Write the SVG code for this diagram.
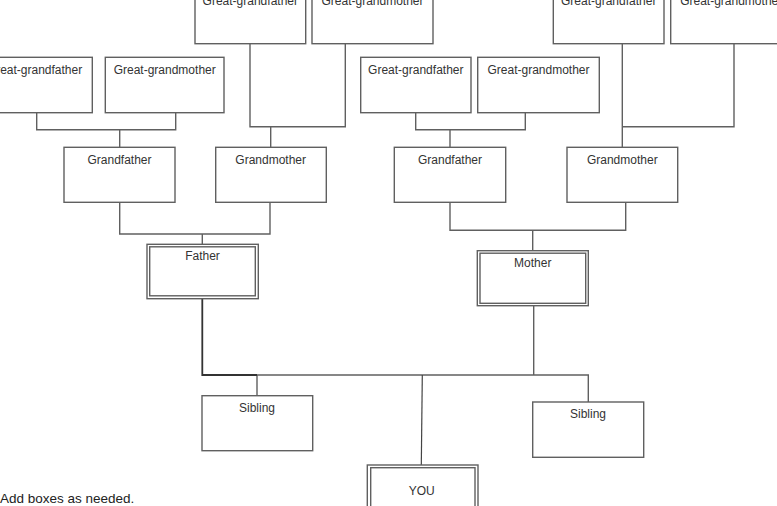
<svg xmlns="http://www.w3.org/2000/svg" width="777" height="506" viewBox="0 0 777 506">
<style>
.box{fill:#fff;stroke:#606060;stroke-width:1.4}
.lbl{font-family:"Liberation Sans",Arial,sans-serif;font-size:12px;fill:#333;text-anchor:middle}
.note{font-family:"Liberation Sans",Arial,sans-serif;font-size:13.5px;fill:#222}
.con{fill:none;stroke:#606060;stroke-width:1.4}
.dark{fill:none;stroke:#333;stroke-width:1.8}
</style>
<rect width="777" height="506" fill="#fff"/>
<g id="connectors">
<path class="con" d="M36.7 113 V129.7 H175.7 V113 M119.7 129.7 V147.3"/>
<path class="con" d="M250 43.7 V126.7 H345.3 V43.7 M270.7 126.7 V147.3"/>
<path class="con" d="M415.7 113 V129.7 H525.3 V113 M450 129.7 V147.3"/>
<path class="con" d="M622.3 43.7 V126.7 H734 V43.7 M622.3 126.7 V147.3"/>
<path class="con" d="M119.7 202.3 V234 H270 V202.3 M202.3 234 V244.3"/>
<path class="con" d="M450 202.3 V230.3 H625.7 V202.3 M532.7 230.3 V250.7"/>
<path class="con" d="M257 375 H588.3 V402 M533.7 305.7 V375 M257 375 V395.7"/>
<path class="dark" d="M202.3 298.7 V375 H257"/>
<path class="con" d="M422.3 375 L421.3 465" style="stroke:#444;stroke-width:1.2"/>
</g>
<g id="ggf1"><rect class="box" x="195" y="-12" width="110.7" height="55.7"/><text class="lbl" x="250.3" y="4.5">Great-grandfather</text></g>
<g id="ggm1"><rect class="box" x="312" y="-12" width="121" height="55.7"/><text class="lbl" x="372.5" y="4.5">Great-grandmother</text></g>
<g id="ggf3"><rect class="box" x="553.3" y="-12" width="110.7" height="55.7"/><text class="lbl" x="608.7" y="4.5">Great-grandfather</text></g>
<g id="ggm3"><rect class="box" x="670.7" y="-12" width="121" height="55.7"/><text class="lbl" x="731.2" y="4.5">Great-grandmother</text></g>
<g id="ggf2"><rect class="box" x="-19" y="57.3" width="111.3" height="55.4"/><text class="lbl" x="34.5" y="74">Great-grandfather</text></g>
<g id="ggm2"><rect class="box" x="105.3" y="57.3" width="118.7" height="55.4"/><text class="lbl" x="164.7" y="74">Great-grandmother</text></g>
<g id="ggf4"><rect class="box" x="360.7" y="57.3" width="110.3" height="55.4"/><text class="lbl" x="415.8" y="74">Great-grandfather</text></g>
<g id="ggm4"><rect class="box" x="477.7" y="57.3" width="121.6" height="55.4"/><text class="lbl" x="538.5" y="74">Great-grandmother</text></g>
<g id="gf1"><rect class="box" x="64" y="147.3" width="111" height="55"/><text class="lbl" x="119.5" y="163.6">Grandfather</text></g>
<g id="gm1"><rect class="box" x="215.7" y="147.3" width="110.6" height="55"/><text class="lbl" x="270.7" y="163.6">Grandmother</text></g>
<g id="gf2"><rect class="box" x="394.3" y="147.3" width="111.4" height="55"/><text class="lbl" x="450" y="163.6">Grandfather</text></g>
<g id="gm2"><rect class="box" x="567" y="147.3" width="110.7" height="55"/><text class="lbl" x="622.3" y="163.6">Grandmother</text></g>
<g id="father"><rect class="box" x="147" y="244.3" width="111.3" height="54.4"/><rect class="box" x="149.7" y="246.8" width="105.6" height="49"/><text class="lbl" x="202.5" y="260.3">Father</text></g>
<g id="mother"><rect class="box" x="477.3" y="250.7" width="111" height="55"/><rect class="box" x="480" y="253.2" width="105.7" height="50.1"/><text class="lbl" x="532.8" y="266.5">Mother</text></g>
<g id="sibling1"><rect class="box" x="202" y="395.7" width="110.7" height="55"/><text class="lbl" x="257" y="412">Sibling</text></g>
<g id="sibling2"><rect class="box" x="532.7" y="402" width="111" height="55.3"/><text class="lbl" x="588" y="418.3">Sibling</text></g>
<g id="you"><rect class="box" x="367.3" y="465" width="110.7" height="60"/><rect class="box" x="370.7" y="467.7" width="104.3" height="60"/><text class="lbl" x="421.7" y="495.3">YOU</text></g>
<text class="note" x="0" y="503">Add boxes as needed.</text>
</svg>
